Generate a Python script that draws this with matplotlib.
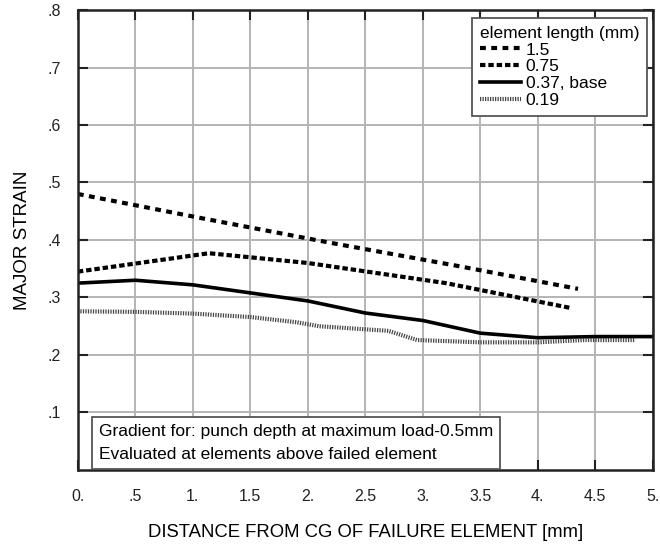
import numpy as np
import matplotlib.pyplot as plt

plt.rcParams['font.family'] = ['Liberation Sans', 'DejaVu Sans']

# element length 1.5 mm
x_15 = [0.0, 1.1, 2.2, 3.3, 4.35]
y_15 = [0.480, 0.437, 0.395, 0.355, 0.315]
# element length 0.75 mm
x_075 = [0.0, 1.14, 2.0, 3.2, 4.28]
y_075 = [0.345, 0.377, 0.360, 0.325, 0.282]
# element length 0.37 mm (base)
x_037 = [0.0, 0.5, 1.0, 1.5, 2.0, 2.5, 3.0, 3.5, 4.0, 4.5, 5.0]
y_037 = [0.325, 0.330, 0.322, 0.308, 0.294, 0.273, 0.260, 0.238, 0.230, 0.232, 0.232]
# element length 0.19 mm
x_019 = [0.0, 0.5, 1.0, 1.5, 1.9, 2.1, 2.7, 2.95, 3.5, 4.0, 4.4, 4.85]
y_019 = [0.276, 0.275, 0.272, 0.266, 0.257, 0.250, 0.242, 0.226, 0.222, 0.222, 0.226, 0.226]

labels = ['1.5', '0.75', '0.37, base', '0.19']
xticks = [0, 0.5, 1, 1.5, 2, 2.5, 3, 3.5, 4, 4.5, 5]
xtick_labels = ['0.', '.5', '1.', '1.5', '2.', '2.5', '3.', '3.5', '4.', '4.5', '5.']
yticks = [0.1, 0.2, 0.3, 0.4, 0.5, 0.6, 0.7, 0.8]
ytick_labels = ['.1', '.2', '.3', '.4', '.5', '.6', '.7', '.8']

fig = plt.figure(figsize=(6.6, 5.47), dpi=100, facecolor='w')
ax = fig.add_axes([0.118, 0.1408, 0.871, 0.8409])

ax.plot(x_15, y_15, color='black', lw=3, linestyle=(0, (1.4, 1.3)), label=labels[0])
ax.plot(x_075, y_075, color='black', lw=3, linestyle=(0, (1.3, 0.7)), label=labels[1])
ax.plot(x_037, y_037, color='black', lw=2.6, linestyle='-', label=labels[2])
ax.plot(x_019, y_019, color='#444444', lw=3, linestyle=(0, (0.3, 0.3)), label=labels[3])

ax.set_xlim(0, 5)
ax.set_ylim(0, 0.8)
ax.set_xticks(xticks)
ax.set_xticklabels(xtick_labels)
ax.set_yticks(yticks)
ax.set_yticklabels(ytick_labels)
ax.tick_params(axis='both', labelsize=11.5, direction='in', length=7, width=1.5,
               top=True, right=True, colors='#222222')
ax.tick_params(axis='x', pad=14)
ax.tick_params(axis='y', pad=12)
ax.grid(True, color='#b4b4b4', lw=1.4)
ax.set_axisbelow(True)
for s in ax.spines.values():
    s.set_linewidth(1.8)
    s.set_color('#222222')

ax.set_xlabel('DISTANCE FROM CG OF FAILURE ELEMENT [mm]', fontsize=13.3, labelpad=14)
ax.set_ylabel('MAJOR STRAIN', fontsize=13.5, labelpad=12)

leg = ax.legend(title='element length (mm)', loc='upper right', fontsize=12.5, title_fontsize=12.5,
                fancybox=False, edgecolor='#555555', framealpha=1, handlelength=2.4,
                handletextpad=0.25, labelspacing=0.1, borderpad=0.45, borderaxespad=0,
                bbox_to_anchor=(0.99, 0.983))
leg.get_frame().set_linewidth(1.3)
leg._legend_box.align = 'left'

ax.text(0.036, 0.018, 'Gradient for: punch depth at maximum load-0.5mm\nEvaluated at elements above failed element',
        transform=ax.transAxes, fontsize=12.5, va='bottom', ha='left', linespacing=1.65,
        bbox=dict(boxstyle='square,pad=0.4', facecolor='white', edgecolor='#555555', lw=1.3))

fig.savefig('out.png', dpi=100)
